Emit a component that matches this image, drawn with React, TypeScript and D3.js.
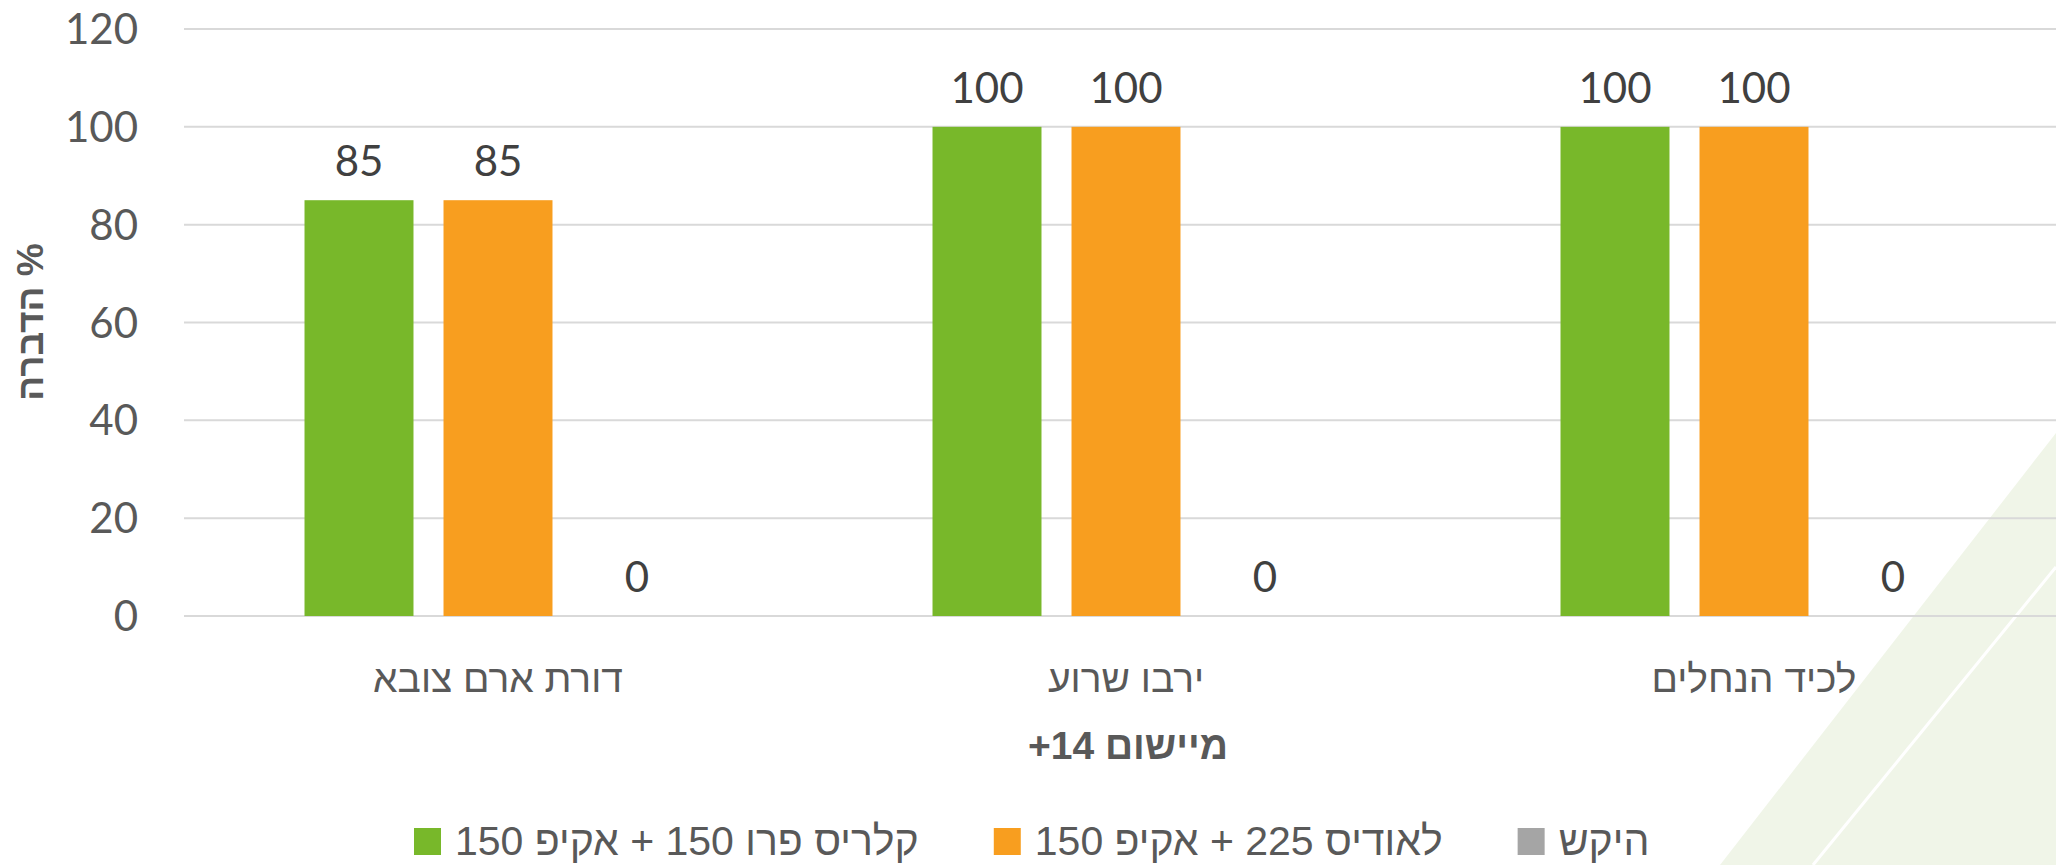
import { FC, useEffect, useRef } from 'react';
import * as d3 from 'd3';

const CATEGORIES = ['דורת ארם צובא', 'ירבו שרוע', 'לכיד הנחלים'];
const SERIES = ['קלריס פרו 150 + אקיפ 150', 'לאודיס 225 + אקיפ 150', 'היקש'];
const SERIES_COLORS = ['#78B82A', '#F89E1F', '#A5A5A5'];
const CLARIS_VALUES = [85, 100, 100];
const LAUDIS_VALUES = [85, 100, 100];
const CONTROL_VALUES = [0, 0, 0];
const Y_TICKS = [0, 20, 40, 60, 80, 100, 120];
const Y_TITLE = '% הדברה';
const X_TITLE = 'מיישום 14+';

const FONT = "Lato, 'Liberation Sans', 'DejaVu Sans', sans-serif";
const HEB_FONT = "'Liberation Sans', 'DejaVu Sans', sans-serif";
// wrap in a right-to-left embedding so trailing neutrals land on the left
const rtl = (s: string) => `\u202B${s}\u202C`;

const App: FC = () => {
  const svgRef = useRef<SVGSVGElement>(null);

  useEffect(() => {
    if (!svgRef.current) return;
    document.body.style.margin = '0';

    const width = 2056;
    const height = 865;
    const svg = d3.select(svgRef.current).attr('width', width).attr('height', height);
    svg.selectAll('*').remove();

    // background decoration, bottom right
    svg
      .append('polygon')
      .attr('points', `${width},433 1720,${height} ${width},${height}`)
      .attr('fill', '#F0F5E8');
    svg
      .append('line')
      .attr('x1', width)
      .attr('y1', 567)
      .attr('x2', 1813)
      .attr('y2', height)
      .attr('stroke', '#fff')
      .attr('stroke-width', 3);

    const values = [CLARIS_VALUES, LAUDIS_VALUES, CONTROL_VALUES];
    const rows = CATEGORIES.map((c, i) => ({
      category: c,
      values: SERIES.map((s, j) => ({ series: s, color: SERIES_COLORS[j], value: values[j][i] })),
    }));

    const x0 = d3.scaleBand<string>().domain(CATEGORIES).range([184, 2068]).padding(0);
    const x1 = d3
      .scaleBand<string>()
      .domain(SERIES)
      .range([0, x0.bandwidth()])
      .paddingInner(0.216)
      .paddingOuter(0.867);
    const y = d3.scaleLinear().domain([0, 120]).range([616, 29]);

    // gridlines
    svg
      .append('g')
      .selectAll('line')
      .data(Y_TICKS)
      .join('line')
      .attr('x1', 184)
      .attr('x2', width)
      .attr('y1', (d) => y(d))
      .attr('y2', (d) => y(d))
      .attr('stroke', '#D9D9D9')
      .attr('stroke-width', 2);

    svg
      .append('g')
      .selectAll('text')
      .data(Y_TICKS)
      .join('text')
      .attr('x', 138)
      .attr('y', (d) => y(d))
      .attr('dy', '0.36em')
      .attr('text-anchor', 'end')
      .attr('font-family', FONT)
      .attr('font-size', 42)
      .attr('fill', '#595959')
      .text((d) => d);

    const groups = svg
      .append('g')
      .selectAll('g')
      .data(rows)
      .join('g')
      .attr('transform', (d) => `translate(${x0(d.category)},0)`);

    groups
      .selectAll('rect')
      .data((d) => d.values)
      .join('rect')
      .attr('x', (d) => x1(d.series)!)
      .attr('width', x1.bandwidth())
      .attr('y', (d) => y(d.value))
      .attr('height', (d) => y(0) - y(d.value))
      .attr('fill', (d) => d.color);

    groups
      .selectAll('text')
      .data((d) => d.values)
      .join('text')
      .attr('x', (d) => x1(d.series)! + x1.bandwidth() / 2)
      .attr('y', (d) => y(d.value) - 24)
      .attr('text-anchor', 'middle')
      .attr('font-family', FONT)
      .attr('font-size', 42)
      .attr('fill', '#404040')
      .text((d) => d.value);

    // category labels
    svg
      .append('g')
      .selectAll('text')
      .data(CATEGORIES)
      .join('text')
      .attr('x', (d) => x0(d)! + x0.bandwidth() / 2)
      .attr('y', 692)
      .attr('text-anchor', 'middle')
      .attr('font-family', HEB_FONT)
      .attr('font-size', 39)
      .attr('fill', '#595959')
      .text((d) => rtl(d));

    svg
      .append('text')
      .attr('x', 1128)
      .attr('y', 759)
      .attr('text-anchor', 'middle')
      .attr('font-family', HEB_FONT)
      .attr('font-size', 39)
      .attr('font-weight', 'bold')
      .attr('fill', '#595959')
      .text(rtl(X_TITLE));

    svg
      .append('text')
      .attr('transform', 'translate(43,322) rotate(-90)')
      .attr('text-anchor', 'middle')
      .attr('font-family', HEB_FONT)
      .attr('font-size', 37)
      .attr('font-weight', 'bold')
      .attr('fill', '#595959')
      .text(rtl(Y_TITLE));

    // legend
    const legend = svg.append('g');
    const items = legend
      .selectAll('g')
      .data(SERIES.map((s, i) => ({ series: s, color: SERIES_COLORS[i] })))
      .join('g');
    items
      .append('rect')
      .attr('width', 27)
      .attr('height', 27)
      .attr('y', 828)
      .attr('fill', (d) => d.color);
    items
      .append('text')
      .attr('y', 855)
      .attr('font-family', HEB_FONT)
      .attr('font-size', 41)
      .attr('fill', '#595959')
      .text((d) => rtl(d.series));

    let cursor = 414;
    items.each(function () {
      const g = d3.select(this);
      const txt = g.select<SVGTextElement>('text');
      const w = txt.node()!.getComputedTextLength();
      g.select('rect').attr('x', cursor);
      txt.attr('x', cursor + 41);
      cursor += 41 + w + 75;
    });
  }, []);

  return <svg ref={svgRef} style={{ display: 'block' }} />;
};

export default App;
